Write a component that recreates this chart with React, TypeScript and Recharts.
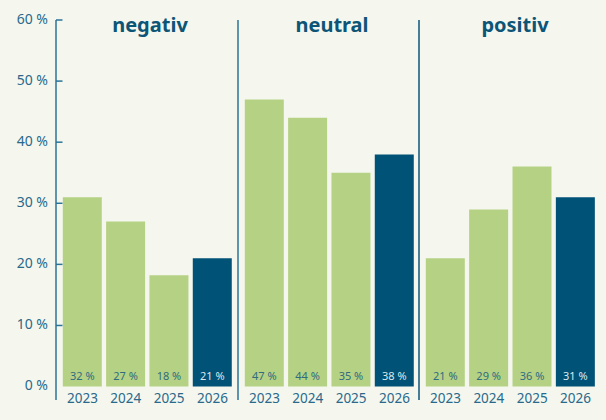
import React from 'react';
import { BarChart, Bar, XAxis, YAxis, Cell, LabelList } from 'recharts';

const years = ['2023', '2024', '2025', '2026'];
const highlightYear = '2026';
const groupNames = ['negativ', 'neutral', 'positiv'];
const negativValues = [31, 27, 18.2, 21];
const neutralValues = [47, 44, 35, 38];
const positivValues = [21, 29, 36, 31];
const negativLabels = [32, 27, 18, 21];
const neutralLabels = [47, 44, 35, 38];
const positivLabels = [21, 29, 36, 31];
const yTicks = [0, 10, 20, 30, 40, 50, 60];

const BG = '#f5f7ef';
const GREEN = '#b5d183';
const BLUE = '#005276';
const AXIS = '#2b7497';
const TEXT = '#29698b';
const TITLE = '#0c5576';
const FONT = '"Noto Sans", sans-serif';

const build = (values: number[], labels: number[]) =>
  years.map((y, i) => ({ year: y, value: values[i], label: `${labels[i]} %` }));

const groups = [
  { name: groupNames[0], data: build(negativValues, negativLabels) },
  { name: groupNames[1], data: build(neutralValues, neutralLabels) },
  { name: groupNames[2], data: build(positivValues, positivLabels) },
];

const layout = [
  { left: 0, width: 238, yWidth: 56, pad: { left: 4.8, right: 3.9 }, axis: AXIS, title: 150 },
  { left: 237, width: 183, yWidth: 1, pad: { left: 4.8, right: 3.9 }, axis: AXIS, title: 332 },
  { left: 418, width: 188, yWidth: 1, pad: { left: 4.8, right: 8.8 }, axis: '#0d5478', title: 515 },
];

const YTick = (props: any) => {
  const { x, y, payload } = props;
  return (
    <g>
      {payload.value !== 0 && (
        <line x1={x + 8} x2={x + 14.5} y1={y} y2={y} stroke={AXIS} strokeWidth={1.5} />
      )}
      <text x={x} y={y + 3.5} textAnchor="end" fill={TEXT} fontSize={14} fontFamily={FONT}>
        {`${payload.value} %`}
      </text>
    </g>
  );
};

const XTick = (props: any) => {
  const { x, y, payload } = props;
  return (
    <text x={x} y={y + 3} textAnchor="middle" fill={TEXT} fontSize={13.5} fontFamily={FONT}>
      {payload.value}
    </text>
  );
};

const makeLabel = (data: any[]) => (props: any) => {
  const { x, y, width, height, value, index } = props;
  const hl = data[index]?.year === highlightYear;
  return (
    <text
      x={Number(x) + Number(width) / 2}
      y={Number(y) + Number(height) - 6.5}
      textAnchor="middle"
      fill={hl ? '#dbe8ef' : '#2f6c80'}
      fontSize={11}
      fontFamily={FONT}
    >
      {value}
    </text>
  );
};

export default function App() {
  return (
    <div style={{ position: 'absolute', left: 0, top: 0, width: 606, height: 420, background: BG, overflow: 'hidden', fontFamily: FONT }}>
      {groups.map((g, gi) => {
        const L = layout[gi];
        return (
          <div key={g.name} style={{ position: 'absolute', left: L.left, top: 0 }}>
            <BarChart
              width={L.width}
              height={420}
              data={g.data}
              margin={{ top: 20, right: 0, bottom: 0, left: 0 }}
            >
              <XAxis
                dataKey="year"
                axisLine={false}
                tickLine={false}
                tickSize={0}
                tickMargin={0}
                height={20}
                padding={L.pad}
                tick={<XTick />}
                interval={0}
              />
              {gi === 0 ? (
                <YAxis
                  width={L.yWidth}
                  domain={[-2.2, 60]}
                  ticks={yTicks}
                  allowDataOverflow
                  axisLine={{ stroke: L.axis, strokeWidth: 1.5 }}
                  tickLine={false}
                  tickSize={0}
                  tickMargin={8}
                  tick={<YTick />}
                  interval={0}
                />
              ) : (
                <YAxis
                  width={L.yWidth}
                  domain={[-2.2, 60]}
                  ticks={yTicks}
                  allowDataOverflow
                  axisLine={{ stroke: L.axis, strokeWidth: 1.5 }}
                  tickLine={false}
                  tick={false}
                />
              )}
              <Bar dataKey="value" barSize={39} isAnimationActive={false}>
                {g.data.map((d) => (
                  <Cell key={d.year} fill={d.year === highlightYear ? BLUE : GREEN} />
                ))}
                <LabelList dataKey="label" content={makeLabel(g.data)} />
              </Bar>
            </BarChart>
            <div
              style={{
                position: 'absolute',
                top: 15,
                left: L.title - L.left - 60,
                width: 120,
                textAlign: 'center',
                fontSize: 20,
                lineHeight: '20px',
                fontWeight: 700,
                color: TITLE,
                fontFamily: FONT,
              }}
            >
              {g.name}
            </div>
          </div>
        );
      })}
    </div>
  );
}
